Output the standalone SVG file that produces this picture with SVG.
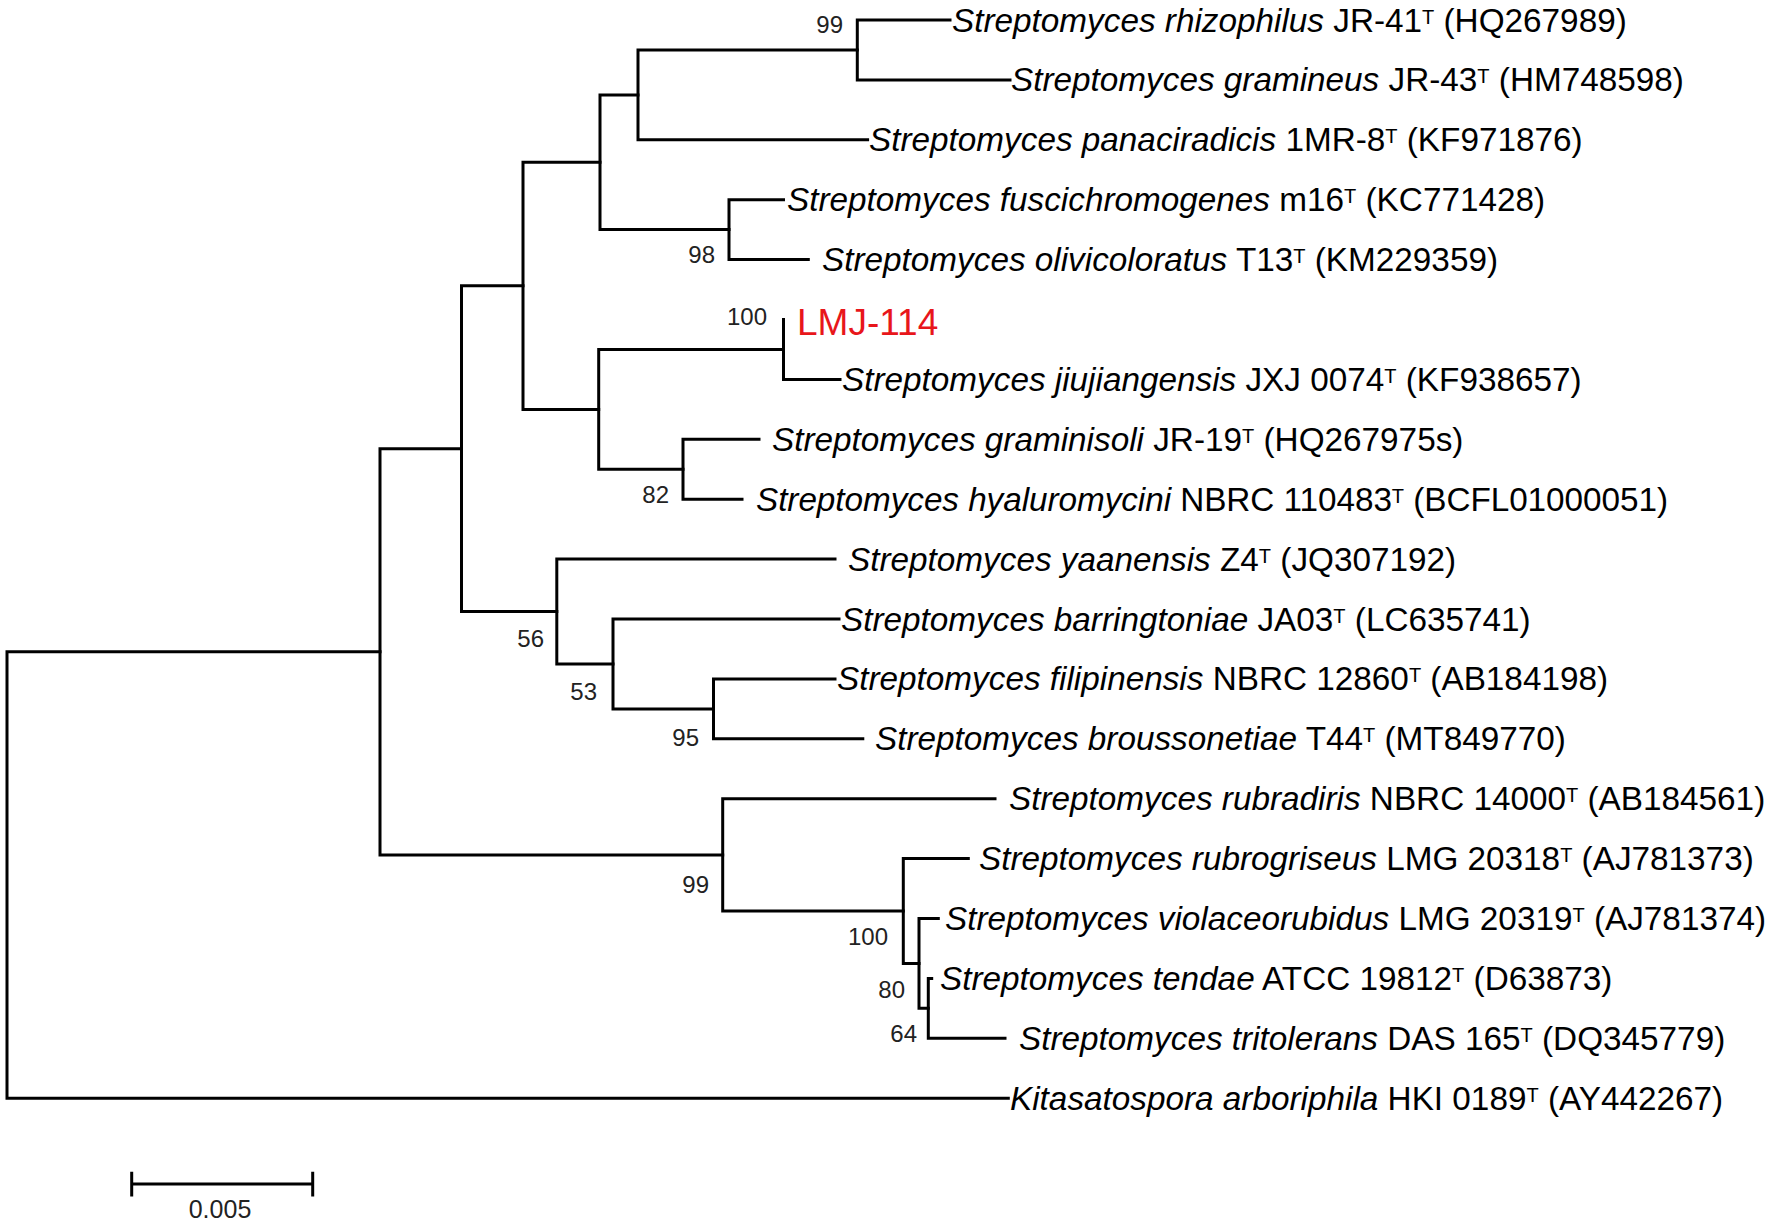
<svg xmlns="http://www.w3.org/2000/svg" width="1772" height="1227" viewBox="0 0 1772 1227">
<style>
.br{fill:none;stroke:#000;stroke-width:3;stroke-linecap:square}
.lab{font-family:"Liberation Sans",Arial,sans-serif;font-size:33.3px;fill:#000}
.sp{font-style:italic}
.sup{font-size:20px}
.bs{font-family:"Liberation Sans",Arial,sans-serif;font-size:24px;fill:#222;text-anchor:end}
.red{font-family:"Liberation Sans",Arial,sans-serif;font-size:37px;fill:#e8161b}
</style>
<rect width="1772" height="1227" fill="#fff"/>
<g id="branches" class="br">
<path d="M7 651.8V1098.2M7 651.8H380M7 1098.2H1008.3"/>
<path d="M380 448.7V854.9M380 448.7H461.5M380 854.9H722.7"/>
<path d="M461.5 285.8V611.5M461.5 285.8H523M461.5 611.5H556.8"/>
<path d="M523 162.3V409.4M523 162.3H600M523 409.4H598.7"/>
<path d="M600 94.9V229.6M600 94.9H638M600 229.6H729"/>
<path d="M638 50V139.8M638 50H857.3M638 139.8H867.6"/>
<path d="M857.3 20V79.9M857.3 20H950M857.3 79.9H1010"/>
<path d="M729 199.7V259.6M729 199.7H783.5M729 259.6H808.3"/>
<path d="M598.7 349.5V469.3M598.7 349.5H783.5M598.7 469.3H683"/>
<path d="M783.5 319.5V379.4M783.5 379.4H840"/>
<path d="M683 439.3V499.2M683 439.3H759M683 499.2H742"/>
<path d="M556.8 559.1V664M556.8 559.1H835M556.8 664H613"/>
<path d="M613 619V708.9M613 619H839M613 708.9H713.5"/>
<path d="M713.5 678.9V738.8M713.5 678.9H835M713.5 738.8H862.8"/>
<path d="M722.7 798.7V911M722.7 798.7H995M722.7 911H903.3"/>
<path d="M903.3 858.6V963.4M903.3 858.6H968.3M903.3 963.4H919"/>
<path d="M919 918.5V1008.3M919 918.5H938.3M919 1008.3H928.3"/>
<path d="M928.3 978.4V1038.3M928.3 978.4H931.7M928.3 1038.3H1005"/>
</g>
<g id="support">
<text class="bs" x="843" y="33">99</text>
<text class="bs" x="715" y="263">98</text>
<text class="bs" x="767" y="325">100</text>
<text class="bs" x="669" y="503">82</text>
<text class="bs" x="544" y="647">56</text>
<text class="bs" x="597" y="700">53</text>
<text class="bs" x="699" y="746">95</text>
<text class="bs" x="709" y="893">99</text>
<text class="bs" x="888" y="945">100</text>
<text class="bs" x="905" y="998">80</text>
<text class="bs" x="917" y="1042">64</text>
</g>
<g id="leaf-rhizophilus"><text class="lab" x="952" y="31.5"><tspan class="sp">Streptomyces rhizophilus</tspan> JR-41<tspan class="sup" dy="-8">T</tspan><tspan dy="8"> (HQ267989)</tspan></text></g>
<g id="leaf-gramineus"><text class="lab" x="1011" y="91.4"><tspan class="sp">Streptomyces gramineus</tspan> JR-43<tspan class="sup" dy="-8">T</tspan><tspan dy="8"> (HM748598)</tspan></text></g>
<g id="leaf-panaciradicis"><text class="lab" x="869" y="151.3"><tspan class="sp">Streptomyces panaciradicis</tspan> 1MR-8<tspan class="sup" dy="-8">T</tspan><tspan dy="8"> (KF971876)</tspan></text></g>
<g id="leaf-fuscichromogenes"><text class="lab" x="787" y="211.2"><tspan class="sp">Streptomyces fuscichromogenes</tspan> m16<tspan class="sup" dy="-8">T</tspan><tspan dy="8"> (KC771428)</tspan></text></g>
<g id="leaf-olivicoloratus"><text class="lab" x="822" y="271.1"><tspan class="sp">Streptomyces olivicoloratus</tspan> T13<tspan class="sup" dy="-8">T</tspan><tspan dy="8"> (KM229359)</tspan></text></g>
<g id="leaf-LMJ-114"><text class="red" x="797" y="335">LMJ-114</text></g>
<g id="leaf-jiujiangensis"><text class="lab" x="842" y="390.9"><tspan class="sp">Streptomyces jiujiangensis</tspan> JXJ 0074<tspan class="sup" dy="-8">T</tspan><tspan dy="8"> (KF938657)</tspan></text></g>
<g id="leaf-graminisoli"><text class="lab" x="772" y="450.8"><tspan class="sp">Streptomyces graminisoli</tspan> JR-19<tspan class="sup" dy="-8">T</tspan><tspan dy="8"> (HQ267975s)</tspan></text></g>
<g id="leaf-hyaluromycini"><text class="lab" x="756" y="510.7" textLength="912" lengthAdjust="spacing"><tspan class="sp">Streptomyces hyaluromycini</tspan> NBRC 110483<tspan class="sup" dy="-8">T</tspan><tspan dy="8"> (BCFL01000051)</tspan></text></g>
<g id="leaf-yaanensis"><text class="lab" x="848" y="570.6"><tspan class="sp">Streptomyces yaanensis</tspan> Z4<tspan class="sup" dy="-8">T</tspan><tspan dy="8"> (JQ307192)</tspan></text></g>
<g id="leaf-barringtoniae"><text class="lab" x="841" y="630.5"><tspan class="sp">Streptomyces barringtoniae</tspan> JA03<tspan class="sup" dy="-8">T</tspan><tspan dy="8"> (LC635741)</tspan></text></g>
<g id="leaf-filipinensis"><text class="lab" x="837" y="690.4"><tspan class="sp">Streptomyces filipinensis</tspan> NBRC 12860<tspan class="sup" dy="-8">T</tspan><tspan dy="8"> (AB184198)</tspan></text></g>
<g id="leaf-broussonetiae"><text class="lab" x="875" y="750.3"><tspan class="sp">Streptomyces broussonetiae</tspan> T44<tspan class="sup" dy="-8">T</tspan><tspan dy="8"> (MT849770)</tspan></text></g>
<g id="leaf-rubradiris"><text class="lab" x="1009" y="810.2"><tspan class="sp">Streptomyces rubradiris</tspan> NBRC 14000<tspan class="sup" dy="-8">T</tspan><tspan dy="8"> (AB184561)</tspan></text></g>
<g id="leaf-rubrogriseus"><text class="lab" x="979" y="870.1"><tspan class="sp">Streptomyces rubrogriseus</tspan> LMG 20318<tspan class="sup" dy="-8">T</tspan><tspan dy="8"> (AJ781373)</tspan></text></g>
<g id="leaf-violaceorubidus"><text class="lab" x="945" y="930"><tspan class="sp">Streptomyces violaceorubidus</tspan> LMG 20319<tspan class="sup" dy="-8">T</tspan><tspan dy="8"> (AJ781374)</tspan></text></g>
<g id="leaf-tendae"><text class="lab" x="940" y="989.9"><tspan class="sp">Streptomyces tendae</tspan> ATCC 19812<tspan class="sup" dy="-8">T</tspan><tspan dy="8"> (D63873)</tspan></text></g>
<g id="leaf-tritolerans"><text class="lab" x="1019" y="1049.8"><tspan class="sp">Streptomyces tritolerans</tspan> DAS 165<tspan class="sup" dy="-8">T</tspan><tspan dy="8"> (DQ345779)</tspan></text></g>
<g id="leaf-arboriphila"><text class="lab" x="1010" y="1109.7"><tspan class="sp">Kitasatospora arboriphila</tspan> HKI 0189<tspan class="sup" dy="-8">T</tspan><tspan dy="8"> (AY442267)</tspan></text></g>
<g id="scale-bar">
<path class="br" d="M131.7 1184H312.7M131.7 1173.3V1195M312.7 1173.3V1195"/>
<text class="bs" x="220" y="1218" style="text-anchor:middle;font-size:25px">0.005</text>
</g>
</svg>
